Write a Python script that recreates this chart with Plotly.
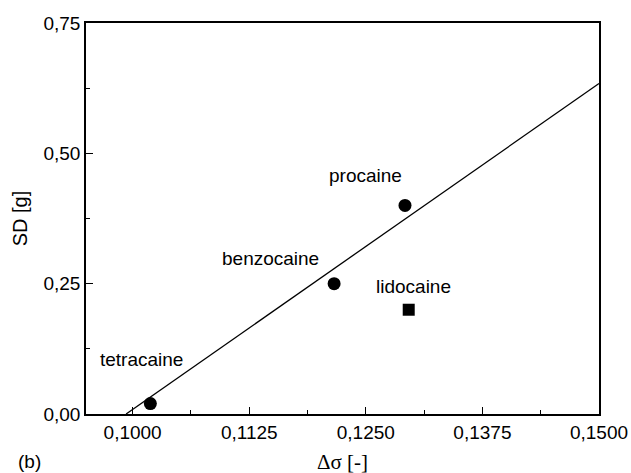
import plotly.graph_objects as go

# Data
names = ["tetracaine", "benzocaine", "procaine"]
delta_sigma = [0.1019, 0.1216, 0.1292]
sd = [0.02, 0.25, 0.40]

lido_name = ["lidocaine"]
lido_x = [0.1296]
lido_y = [0.20]

fit_x = [0.0993, 0.1500]
fit_y = [0.0, 0.634]

label_x = [0.1010, 0.1148, 0.1250, 0.1301]
label_y = [0.1036, 0.299, 0.4566, 0.2455]
label_text = ["tetracaine", "benzocaine", "procaine", "lidocaine"]

xtick_vals = [0.1000, 0.1125, 0.1250, 0.1375, 0.1500]
xtick_text = ["0,1000", "0,1125", "0,1250", "0,1375", "0,1500"]
xminor_vals = [0.10625, 0.11875, 0.13125, 0.14375]
ytick_vals = [0.0, 0.25, 0.50, 0.75]
ytick_text = ["0,00", "0,25", "0,50", "0,75"]
yminor_vals = [0.125, 0.375, 0.625]

font = "Liberation Sans, Arial, sans-serif"

W, H = 631, 473
l, r, t, b = 86, 32, 23, 59
pw, ph = W - l - r, H - t - b
def px2paper(px, py):
    return (px - l) / pw, (H - b - py) / ph

fig = go.Figure()
fig.add_trace(go.Scatter(x=fit_x, y=fit_y, mode="lines",
                         line=dict(color="black", width=1.3), showlegend=False))
fig.add_trace(go.Scatter(x=delta_sigma, y=sd, mode="markers",
                         marker=dict(symbol="circle", size=13, color="black"),
                         showlegend=False))
fig.add_trace(go.Scatter(x=lido_x, y=lido_y, mode="markers",
                         marker=dict(symbol="square", size=12, color="black"),
                         showlegend=False))

for tx, ty, tt in zip(label_x, label_y, label_text):
    fig.add_annotation(x=tx, y=ty, text=tt, showarrow=False,
                       font=dict(family=font, size=19, color="black"),
                       xanchor="center", yanchor="middle")

ax, ay = px2paper(342, 462)
fig.add_annotation(x=ax, y=ay, xref="paper", yref="paper", text="Δσ [-]",
                   showarrow=False, xanchor="center", yanchor="middle",
                   font=dict(family="Liberation Serif, Times New Roman, serif", size=21, color="black"))
bx, by = px2paper(29, 462)
fig.add_annotation(x=bx, y=by, xref="paper", yref="paper", text="(b)", showarrow=False,
                   xanchor="center", yanchor="middle",
                   font=dict(family=font, size=19, color="black"))

fig.update_layout(
    width=W, height=H,
    margin=dict(l=l, r=r, t=t, b=b, autoexpand=False),
    paper_bgcolor="white", plot_bgcolor="white",
    font=dict(family=font, size=19, color="black"),
    xaxis=dict(range=[0.095, 0.150], tickmode="array", tickvals=xtick_vals, ticktext=xtick_text,
               ticks="inside", ticklen=7, tickwidth=1.3, tickcolor="black",
               showline=True, linecolor="black", linewidth=1.5, mirror=True,
               showgrid=False, zeroline=False, automargin=False,
               tickfont=dict(size=19),
               minor=dict(tickmode="array", tickvals=xminor_vals, ticks="inside", ticklen=4,
                          tickwidth=1.3, tickcolor="black", showgrid=False)),
    yaxis=dict(range=[0.0, 0.75], tickmode="array", tickvals=ytick_vals, ticktext=ytick_text,
               ticks="inside", ticklen=7, tickwidth=1.3, tickcolor="black",
               showline=True, linecolor="black", linewidth=1.5, mirror=True,
               showgrid=False, zeroline=False, automargin=False,
               tickfont=dict(size=19),
               title=dict(text="SD [g]", font=dict(family=font, size=20), standoff=10),
               minor=dict(tickmode="array", tickvals=yminor_vals, ticks="inside", ticklen=4,
                          tickwidth=1.3, tickcolor="black", showgrid=False)),
)

fig.write_html("out.html")
